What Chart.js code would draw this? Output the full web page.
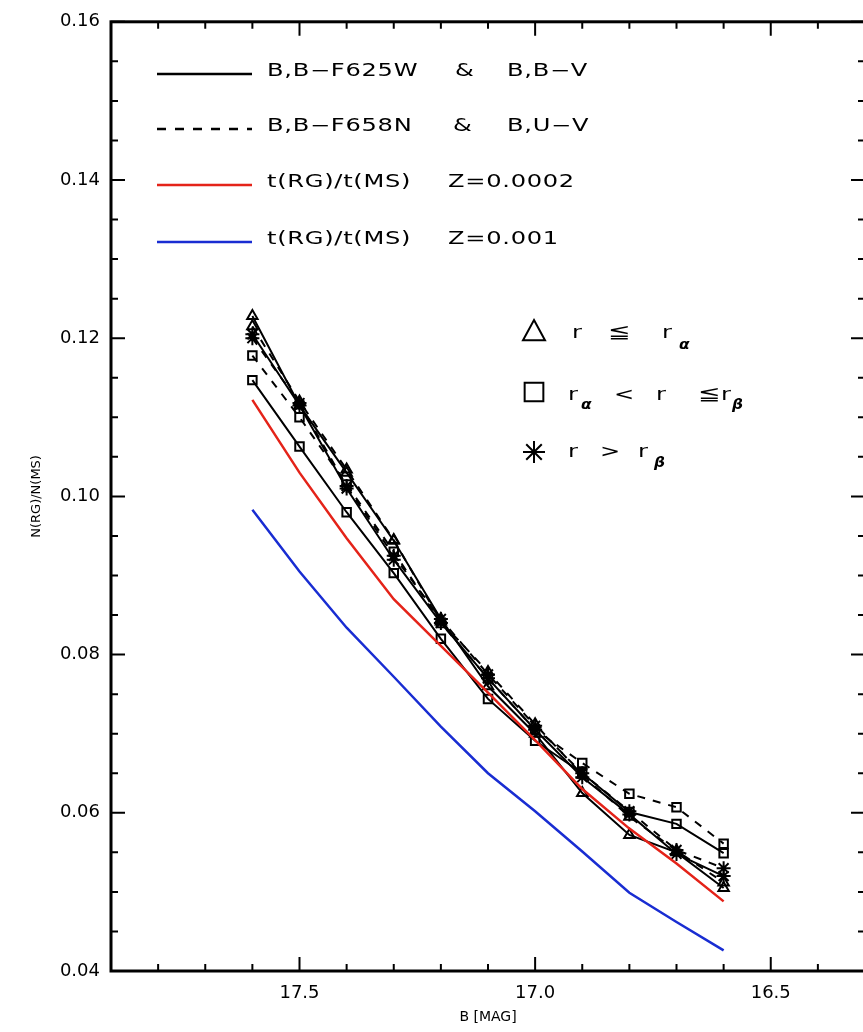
<!DOCTYPE html>
<html>
<head>
<meta charset="utf-8">
<script src="https://cdn.jsdelivr.net/npm/chart.js@4.4.1/dist/chart.umd.min.js"></script>
<style>
  html, body { margin: 0; padding: 0; background: #fff; overflow: hidden; width: 863px; height: 1032px; }
  canvas { display: block; }
</style>
</head>
<body>
<canvas id="grafico" width="874" height="1032"></canvas>
<script>
// magnitudes B (eje x invertido)
const mags = [17.6, 17.5, 17.4, 17.3, 17.2, 17.1, 17.0, 16.9, 16.8, 16.7, 16.6];

// N(RG)/N(MS) observados
const lisoTri   = [0.1228, 0.1115, 0.1030, 0.0944, 0.0845, 0.0760, 0.0700, 0.0625, 0.0572, 0.0550, 0.0505];
const lisoCuad  = [0.1147, 0.1063, 0.0980, 0.0903, 0.0820, 0.0744, 0.0691, 0.0650, 0.0601, 0.0586, 0.0549];
const lisoEst   = [0.1205, 0.1115, 0.1010, 0.0920, 0.0840, 0.0770, 0.0705, 0.0645, 0.0598, 0.0548, 0.0520];
const guionTri  = [0.1215, 0.1120, 0.1034, 0.0945, 0.0842, 0.0778, 0.0712, 0.0648, 0.0595, 0.0552, 0.0512];
const guionCuad = [0.1178, 0.1100, 0.1015, 0.0930, 0.0840, 0.0770, 0.0705, 0.0663, 0.0624, 0.0607, 0.0561];
const guionEst  = [0.1200, 0.1118, 0.1013, 0.0925, 0.0845, 0.0775, 0.0710, 0.0650, 0.0602, 0.0553, 0.0530];

// cocientes teóricos t(RG)/t(MS)
const rojoZ0002 = [0.1122, 0.1030, 0.0947, 0.0870, 0.0811, 0.0752, 0.0692, 0.0630, 0.0580, 0.0536, 0.0488];
const azulZ001  = [0.0983, 0.0905, 0.0834, 0.0772, 0.0709, 0.0650, 0.0602, 0.0551, 0.0499, 0.0462, 0.0426];

// marcas de los ejes
const xMayor = [17.5, 17.0, 16.5];
const xMenor = [17.8, 17.7, 17.6, 17.4, 17.3, 17.2, 17.1, 16.9, 16.8, 16.7, 16.6, 16.4];
const yMayor = [0.04, 0.06, 0.08, 0.10, 0.12, 0.14, 0.16];
const yMenor = [0.045, 0.05, 0.055, 0.065, 0.07, 0.075, 0.085, 0.09, 0.095,
                0.105, 0.11, 0.115, 0.125, 0.13, 0.135, 0.145, 0.15, 0.155];

const leyendaLineas = [
  ['B,B\u2212F625W', '&', 'B,B\u2212V'],
  ['B,B\u2212F658N', '&', 'B,U\u2212V'],
  ['t(RG)/t(MS)', 'Z=0.0002'],
  ['t(RG)/t(MS)', 'Z=0.001']
];

const ROJO = 'rgb(228,35,25)';
const AZUL = 'rgb(25,45,210)';

function puntos(arr) {
  return mags.map((m, i) => ({ x: m, y: arr[i] }));
}

function serieNegra(arr, simbolo, discontinua) {
  return {
    data: puntos(arr),
    borderColor: '#000',
    borderWidth: 2,
    borderDash: discontinua ? [8, 8] : [],
    pointStyle: simbolo,
    pointRadius: simbolo === 'star' ? 7 : 6,
    pointBorderWidth: 2,
    pointBorderColor: '#000',
    pointBackgroundColor: 'rgba(0,0,0,0)',
    fill: false,
    tension: 0
  };
}

function texto(ctx, s, x, y, size, bold) {
  ctx.save();
  ctx.translate(x, y);
  ctx.scale(bold ? 1.1 : 1.42, 1);
  ctx.font = (bold ? 'bold italic ' : '') + size + 'px "DejaVu Sans"';
  ctx.letterSpacing = '0.5px';
  ctx.fillStyle = '#000';
  ctx.textBaseline = 'alphabetic';
  ctx.fillText(s, 0, 0);
  ctx.restore();
}

function simbolo(ctx, tipo, cx, cy, r) {
  ctx.save();
  ctx.strokeStyle = '#000';
  ctx.lineWidth = 2;
  ctx.beginPath();
  if (tipo === 'triangle') {
    ctx.moveTo(cx, cy - r);
    ctx.lineTo(cx + r, cy + r * 0.85);
    ctx.lineTo(cx - r, cy + r * 0.85);
    ctx.closePath();
  } else if (tipo === 'rect') {
    ctx.rect(cx - r * 0.85, cy - r * 0.85, r * 1.7, r * 1.7);
  } else {
    for (let k = 0; k < 4; k++) {
      const a = k * Math.PI / 4;
      ctx.moveTo(cx - r * Math.cos(a), cy - r * Math.sin(a));
      ctx.lineTo(cx + r * Math.cos(a), cy + r * Math.sin(a));
    }
  }
  ctx.stroke();
  ctx.restore();
}

// marco con marcas interiores en los cuatro lados y leyendas
const marcoPlugin = {
  id: 'marco',
  afterDatasetsDraw(chart) {
    const ctx = chart.ctx;
    const a = chart.chartArea;
    const sx = chart.scales.x, sy = chart.scales.y;
    ctx.save();
    ctx.strokeStyle = '#000';
    ctx.lineWidth = 2;
    ctx.beginPath();
    const marcaX = (v, l) => {
      const px = sx.getPixelForValue(v);
      ctx.moveTo(px, a.bottom); ctx.lineTo(px, a.bottom - l);
      ctx.moveTo(px, a.top); ctx.lineTo(px, a.top + l);
    };
    const marcaY = (v, l) => {
      const py = sy.getPixelForValue(v);
      ctx.moveTo(a.left, py); ctx.lineTo(a.left + l, py);
      ctx.moveTo(a.right, py); ctx.lineTo(a.right - l, py);
    };
    xMayor.forEach(v => marcaX(v, 14));
    xMenor.forEach(v => marcaX(v, 7));
    yMayor.forEach(v => marcaY(v, 14));
    yMenor.forEach(v => marcaY(v, 7));
    ctx.stroke();
    ctx.lineWidth = 3;
    ctx.strokeRect(a.left, a.top, a.right - a.left, a.bottom - a.top);

    // leyenda de líneas
    const filas = [
      { y: 74, color: '#000', dash: [] },
      { y: 129, color: '#000', dash: [9, 9] },
      { y: 185, color: ROJO, dash: [] },
      { y: 242, color: AZUL, dash: [] }
    ];
    const posX = [[267, 455, 507], [267, 453, 507], [267, 448], [267, 448]];
    filas.forEach((f, i) => {
      ctx.beginPath();
      ctx.strokeStyle = f.color;
      ctx.lineWidth = 2.5;
      ctx.setLineDash(f.dash);
      ctx.moveTo(157, f.y);
      ctx.lineTo(252, f.y);
      ctx.stroke();
      ctx.setLineDash([]);
      leyendaLineas[i].forEach((s, j) => texto(ctx, s, posX[i][j], f.y + 2, 17));
    });

    // leyenda de símbolos
    simbolo(ctx, 'triangle', 534, 331, 11);
    texto(ctx, 'r', 572, 338, 17);
    texto(ctx, '\u2266', 608, 338, 19);
    texto(ctx, 'r', 662, 338, 17);
    texto(ctx, '\u03b1', 679, 349, 14, true);

    simbolo(ctx, 'rect', 534, 392, 11);
    texto(ctx, 'r', 568, 400, 17);
    texto(ctx, '\u03b1', 581, 409, 14, true);
    texto(ctx, '<', 614, 400, 17);
    texto(ctx, 'r', 656, 400, 17);
    texto(ctx, '\u2266', 698, 400, 19);
    texto(ctx, 'r', 721, 400, 17);
    texto(ctx, '\u03b2', 732, 409, 14, true);

    simbolo(ctx, 'star', 534, 452, 11);
    texto(ctx, 'r', 568, 457, 17);
    texto(ctx, '>', 600, 457, 17);
    texto(ctx, 'r', 638, 457, 17);
    texto(ctx, '\u03b2', 654, 467, 14, true);
    ctx.restore();
  }
};

new Chart(document.getElementById('grafico'), {
  type: 'line',
  data: {
    datasets: [
      {
        data: puntos(rojoZ0002), borderColor: ROJO, borderWidth: 2.5,
        pointRadius: 0, fill: false, tension: 0
      },
      {
        data: puntos(azulZ001), borderColor: AZUL, borderWidth: 2.5,
        pointRadius: 0, fill: false, tension: 0
      },
      serieNegra(lisoTri, 'triangle', false),
      serieNegra(lisoCuad, 'rect', false),
      serieNegra(lisoEst, 'star', false),
      serieNegra(guionTri, 'triangle', true),
      serieNegra(guionCuad, 'rect', true),
      serieNegra(guionEst, 'star', true)
    ]
  },
  options: {
    responsive: false,
    animation: false,
    devicePixelRatio: 1,
    layout: { padding: { top: 10, right: 4, left: 0, bottom: 0 } },
    plugins: { legend: { display: false }, tooltip: { enabled: false } },
    scales: {
      x: {
        type: 'linear',
        min: 16.3,
        max: 17.9,
        reverse: true,
        afterBuildTicks: s => { s.ticks = xMayor.map(v => ({ value: v })); },
        afterFit: s => { s.height = 61; },
        grid: { display: false, drawTicks: false },
        border: { display: false },
        ticks: {
          color: '#000', padding: 12, autoSkip: false, maxRotation: 0,
          font: { family: 'DejaVu Sans', size: 18 },
          callback: v => Number(v).toFixed(1)
        },
        title: {
          display: true, text: 'B [MAG]', color: '#000',
          font: { family: 'DejaVu Sans', size: 14 }, padding: { top: 0, bottom: 6 }
        }
      },
      y: {
        min: 0.04,
        max: 0.16,
        afterBuildTicks: s => { s.ticks = yMayor.map(v => ({ value: v })); },
        afterFit: s => { s.width = 111; },
        grid: { display: false, drawTicks: false },
        border: { display: false },
        ticks: {
          color: '#000', padding: 11,
          font: { family: 'DejaVu Sans', size: 18 },
          callback: v => Number(v).toFixed(2)
        },
        title: {
          display: true, text: 'N(RG)/N(MS)', color: '#000',
          font: { family: 'DejaVu Sans', size: 13 }, padding: { top: 29, bottom: 0 }
        }
      }
    }
  },
  plugins: [marcoPlugin]
});
</script>
</body>
</html>
